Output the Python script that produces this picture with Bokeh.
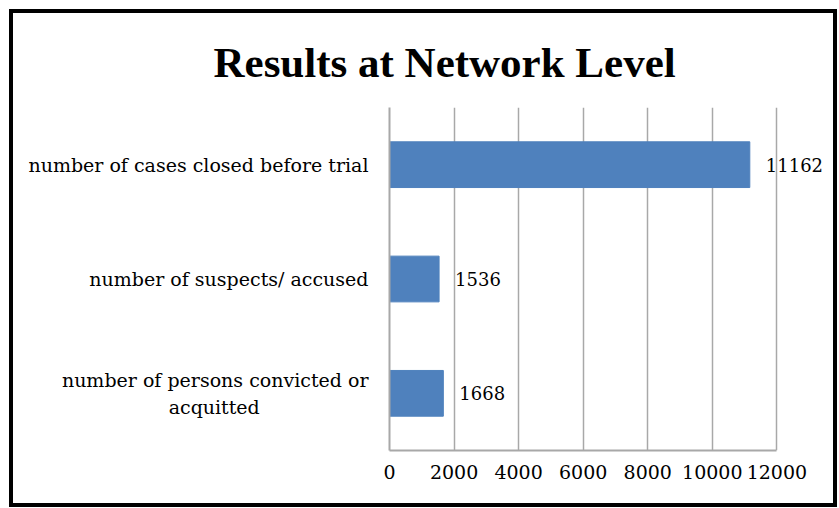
from bokeh.plotting import figure
from bokeh.models import (ColumnDataSource, FactorRange, Range1d, FixedTicker, LabelSet,
                          CustomJSTickFormatter)
from bokeh.core.properties import value
from bokeh.embed import file_html
from bokeh.resources import INLINE

categories = ["number of persons convicted or\nacquitted",
              "number of suspects/ accused",
              "number of cases closed before trial"]
values = [1668, 1536, 11162]
labels = ["1668", "1536", "11162"]
x_ticks = [0, 2000, 4000, 6000, 8000, 10000, 12000]
x_max = 12000

src = ColumnDataSource(dict(cat=categories, val=values, lab=labels))

GRID = "#a8a8a8"
p = figure(y_range=FactorRange(*categories), x_range=Range1d(0, 13600),
           frame_width=439, frame_height=343,
           min_border_left=376, min_border_right=5, min_border_top=94, min_border_bottom=53,
           output_backend="svg", toolbar_location=None,
           title="Results at Network Level")
p.styles = {"border": "4px solid black", "margin": "9px 0 0 9px"}
p.background_fill_color = "white"
p.border_fill_color = "white"
p.outline_line_color = None

p.title.text_font = "Liberation Serif"
p.title.text_font_size = "43px"
p.title.text_font_style = "bold"
p.title.text_color = "black"
p.title.align = "left"
p.title.offset = -176
p.title.standoff = 44

p.hbar(y="cat", right="val", height=0.4, left=0, source=src,
       fill_color="#4F81BD", line_color="#4F81BD")
p.add_layout(LabelSet(x="val", y="cat", text="lab", source=src, x_offset=16,
                      text_baseline="middle", text_align="left",
                      text_font=value("DejaVu Serif"), text_font_size="18px",
                      text_color="black"))

p.xaxis.ticker = FixedTicker(ticks=x_ticks)
p.xaxis.bounds = (0, x_max)
p.xaxis.axis_line_color = GRID
p.xaxis.axis_line_width = 2
p.xaxis.major_tick_line_color = None
p.xaxis.minor_tick_line_color = None
p.xaxis.major_label_text_font = "DejaVu Serif"
p.xaxis.major_label_text_font_size = "19px"
p.xaxis.major_label_text_color = "black"
p.xaxis.major_label_standoff = 8

p.yaxis.axis_line_color = GRID
p.yaxis.axis_line_width = 2
p.yaxis.major_tick_line_color = None
p.yaxis.major_label_text_font = "DejaVu Serif"
p.yaxis.major_label_text_font_size = "19px"
p.yaxis.major_label_text_color = "black"
p.yaxis.major_label_standoff = 15
# centre the lines of a wrapped label (as in the original) by padding shorter lines
p.yaxis.formatter = CustomJSTickFormatter(code="""
    const lines = String(tick).split("\\n");
    if (lines.length < 2) { return tick; }
    const ctx = document.createElement("canvas").getContext("2d");
    ctx.font = "19px 'DejaVu Serif'";
    const w = lines.map(l => ctx.measureText(l).width);
    const W = Math.max(...w);
    const sp = ctx.measureText("\\u00a0").width;
    return lines.map((l, i) => l + "\\u00a0".repeat(Math.round((W - w[i]) / 2 / sp))).join("\\n");
""")

p.xgrid.grid_line_color = GRID
p.xgrid.grid_line_width = 1.5
p.xgrid.ticker = FixedTicker(ticks=x_ticks)
p.xgrid.bounds = (0, x_max)
p.ygrid.grid_line_color = None

open("out.html", "w").write(file_html(p, INLINE))
